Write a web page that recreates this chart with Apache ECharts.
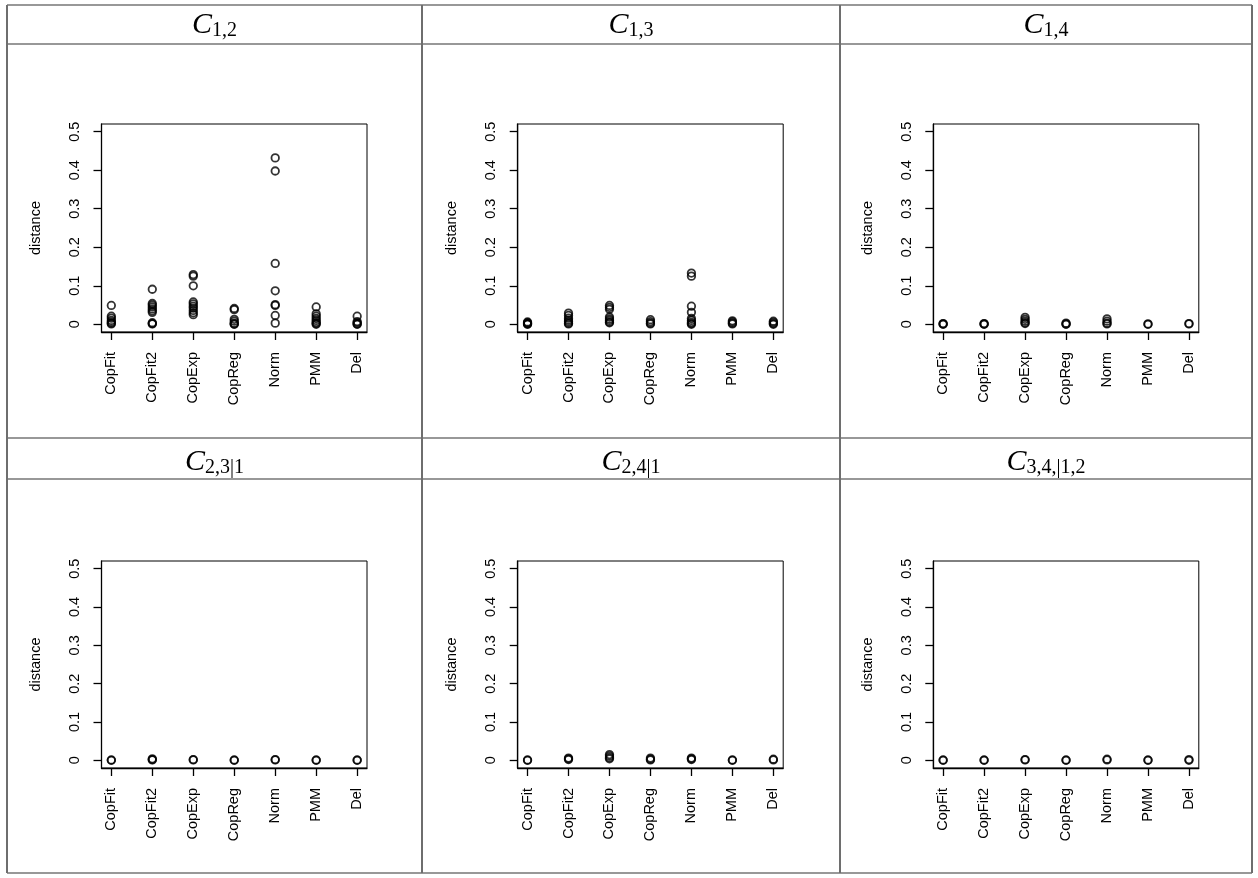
<!DOCTYPE html>
<html>
<head>
<meta charset="utf-8">
<title>distance</title>
<script src="https://cdn.jsdelivr.net/npm/echarts@6/dist/echarts.min.js"></script>
<style>
  html, body { margin: 0; padding: 0; background: #fff; }
  #chart { width: 1258px; height: 878px; }
</style>
</head>
<body>
<div id="chart"></div>
<script>
  // x 轴类别
  const methods = ['CopFit', 'CopFit2', 'CopExp', 'CopReg', 'Norm', 'PMM', 'Del']
  const xTicks = [1, 2, 3, 4, 5, 6, 7]
  const yTicks = [0, 0.1, 0.2, 0.3, 0.4, 0.5]
  // 每个面板标题的下标 (C_{...})
  const panelSubs = ['1,2', '1,3', '1,4', '2,3|1', '2,4|1', '3,4,|1,2']

  // distance values, one list per method (same order as methods)
  const dist12 = [
    [0.049, 0.021, 0.016, 0.010, 0.006, 0.003, 0.001],
    [0.091, 0.054, 0.050, 0.045, 0.040, 0.035, 0.031, 0.004, 0.002, 0.001],
    [0.129, 0.125, 0.100, 0.058, 0.053, 0.047, 0.042, 0.036, 0.030, 0.025],
    [0.041, 0.038, 0.013, 0.008, 0.003, 0.001, 0.000],
    [0.432, 0.398, 0.158, 0.087, 0.051, 0.049, 0.023, 0.003],
    [0.045, 0.027, 0.021, 0.015, 0.010, 0.005, 0.002, 0.000],
    [0.021, 0.007, 0.004, 0.001, 0.000]
  ]
  const dist13 = [
    [0.006, 0.004, 0.002, 0.001, 0.000],
    [0.029, 0.023, 0.016, 0.011, 0.007, 0.003, 0.001],
    [0.049, 0.044, 0.039, 0.019, 0.014, 0.010, 0.006, 0.004],
    [0.012, 0.007, 0.003, 0.001],
    [0.133, 0.125, 0.047, 0.031, 0.015, 0.010, 0.005, 0.002, 0.000],
    [0.009, 0.006, 0.003, 0.001],
    [0.008, 0.005, 0.002, 0.000]
  ]
  const dist14 = [
    [0.002, 0.001, 0.000],
    [0.002, 0.001, 0.000],
    [0.018, 0.013, 0.008, 0.004, 0.002],
    [0.003, 0.001, 0.000],
    [0.014, 0.008, 0.003, 0.001],
    [0.001, 0.000],
    [0.002, 0.001]
  ]
  const dist23 = [
    [0.001, 0.000],
    [0.004, 0.002, 0.001],
    [0.002, 0.001],
    [0.001, 0.000],
    [0.002, 0.001],
    [0.001, 0.000],
    [0.001, 0.000]
  ]
  const dist24 = [
    [0.001, 0.000],
    [0.006, 0.004, 0.002],
    [0.015, 0.011, 0.007, 0.004],
    [0.006, 0.003, 0.001],
    [0.006, 0.004, 0.002],
    [0.001, 0.000],
    [0.003, 0.001]
  ]
  const dist34 = [
    [0.001, 0.000],
    [0.001, 0.000],
    [0.002, 0.001],
    [0.001, 0.000],
    [0.003, 0.001],
    [0.001, 0.000],
    [0.002, 0.000]
  ]
  const panels = [dist12, dist13, dist14, dist23, dist24, dist34]

  // layout of the table and the plot boxes
  const tableLeft = 7, tableRight = 1252, tableTop = 5, tableBottom = 873
  const colLines = [422, 840]
  const rowLines = [44, 438, 479]
  const cellCenters = [214.5, 631, 1046]
  const titleTops = [9, 446]
  const plotLefts = [101.5, 517.7, 933.3]
  const plotTops = [124, 561]
  const plotW = 265.5
  const plotHs = [208, 207]

  const font = 'Liberation Sans'
  const labelSize = 14.5

  let chart = echarts.init(document.getElementById('chart'), null, { renderer: 'canvas' })

  let grids = [], xAxes = [], yAxes = [], series = [], titles = []
  panels.forEach(function (panel, i) {
    let r = Math.floor(i / 3), c = i % 3
    grids.push({
      left: plotLefts[c], top: plotTops[r], width: plotW, height: plotHs[r],
      show: true, borderColor: '#000', borderWidth: 1, backgroundColor: 'transparent'
    })
    xAxes.push({
      type: 'value', gridIndex: i, min: 0.76, max: 7.24,
      splitLine: { show: false },
      axisLine: { show: true, onZero: false, lineStyle: { color: '#000', width: 1.3 } },
      axisTick: { show: true, length: 8, customValues: xTicks, lineStyle: { color: '#000', width: 1.3 } },
      axisLabel: {
        customValues: xTicks, rotate: 90, margin: 20,
        fontFamily: font, fontSize: labelSize, color: '#000',
        formatter: function (v) { return methods[Math.round(v) - 1] }
      }
    })
    yAxes.push({
      type: 'value', gridIndex: i, min: -0.02, max: 0.52,
      name: 'distance', nameLocation: 'middle', nameRotate: 90, nameGap: 58,
      nameTextStyle: { fontFamily: font, fontSize: labelSize, color: '#000' },
      splitLine: { show: false },
      axisLine: { show: true, lineStyle: { color: '#000', width: 1.3 } },
      axisTick: { show: true, length: 8, customValues: yTicks, lineStyle: { color: '#000', width: 1.3 } },
      axisLabel: {
        customValues: yTicks, rotate: 90, margin: 19,
        fontFamily: font, fontSize: labelSize, color: '#000',
        formatter: function (v) { return String(+v.toFixed(1)) }
      }
    })
    let pts = []
    panel.forEach(function (vals, m) {
      vals.forEach(function (v) { pts.push([m + 1, v]) })
    })
    series.push({
      type: 'scatter', xAxisIndex: i, yAxisIndex: i,
      symbol: 'circle', symbolSize: 7.5,
      itemStyle: { color: 'rgba(0,0,0,0)', borderColor: '#000', borderWidth: 1.8 },
      data: pts
    })
    titles.push({
      text: '{c|C}{s|' + panelSubs[i] + '}',
      left: cellCenters[c], top: titleTops[r], textAlign: 'center', padding: 0,
      textStyle: {
        fontWeight: 'normal',
        rich: {
          c: { fontFamily: 'Liberation Serif', fontStyle: 'italic', fontWeight: 'normal', fontSize: 30, lineHeight: 32, color: '#000' },
          s: { fontFamily: 'Liberation Serif', fontWeight: 'normal', fontSize: 20, lineHeight: 18, verticalAlign: 'bottom', color: '#000' }
        }
      }
    })
  })

  // 表格线
  let lines = []
  function hline(y) {
    lines.push({ type: 'line', shape: { x1: tableLeft, y1: y, x2: tableRight, y2: y },
      style: { stroke: '#333', lineWidth: 1.2 }, silent: true })
  }
  function vline(x) {
    lines.push({ type: 'line', shape: { x1: x, y1: tableTop, x2: x, y2: tableBottom },
      style: { stroke: '#6e6e6e', lineWidth: 2 }, silent: true })
  }
  hline(tableTop); hline(tableBottom)
  rowLines.forEach(hline)
  vline(tableLeft); vline(tableRight)
  colLines.forEach(vline)

  chart.setOption({
    animation: false,
    backgroundColor: '#fff',
    title: titles,
    grid: grids,
    xAxis: xAxes,
    yAxis: yAxes,
    series: series,
    graphic: lines
  })
</script>
</body>
</html>
